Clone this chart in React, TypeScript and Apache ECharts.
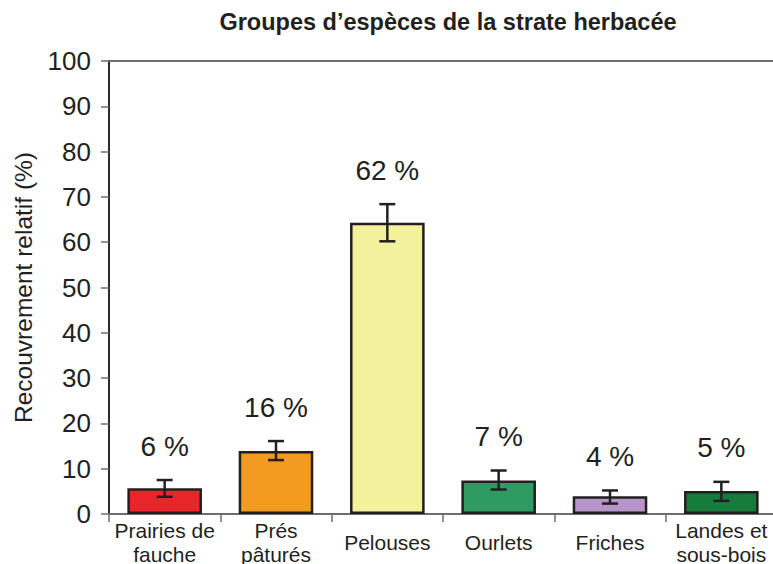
import React, { useEffect, useRef } from "react";
import * as echarts from "echarts";

const categories = ["Prairies de\nfauche", "Prés\npâturés", "Pelouses", "Ourlets", "Friches", "Landes et\nsous-bois"];
const values = [5.7, 13.9, 64.3, 7.4, 3.9, 5.1];
const errLow = [3.8, 11.9, 60.2, 5.4, 2.3, 2.9];
const errHigh = [7.5, 16.1, 68.4, 9.6, 5.2, 7.1];
const valueLabels = ["6 %", "16 %", "62 %", "7 %", "4 %", "5 %"];
const colors = ["#e8262a", "#f39a21", "#f4f19d", "#2f9a62", "#b795c9", "#177b3c"];
const yTicks = [0, 10, 20, 30, 40, 50, 60, 70, 80, 90, 100];

const FONT = "'Liberation Sans', Arial, Helvetica, sans-serif";

export default function App() {
  const ref = useRef<HTMLDivElement>(null);
  useEffect(() => {
    if (!ref.current) return;
    const chart = echarts.init(ref.current, undefined, { renderer: "svg" });
    chart.setOption({
      animation: false,
      backgroundColor: "#ffffff",
      title: {
        text: "Groupes d’espèces de la strate herbacée",
        left: 443,
        textAlign: "center",
        top: 5,
        textStyle: { fontFamily: FONT, fontWeight: "bold", fontSize: 23.5, color: "#231f20" },
      },
      grid: { left: 109, top: 61, width: 668, height: 453, containLabel: false, outerBoundsMode: "none" },
      xAxis: [
        {
          type: "category",
          data: categories,
          position: "bottom",
          axisLine: { show: true, lineStyle: { color: "#6d6d6d", width: 2 } },
          axisTick: { show: true, length: 8, lineStyle: { color: "#6d6d6d", width: 1.5 } },
          axisLabel: {
            interval: 0,
            fontFamily: FONT,
            fontSize: 21,
            color: "#231f20",
            lineHeight: 24,
            verticalAlign: "middle",
            margin: 28,
          },
        },
        {
          type: "category",
          data: categories,
          position: "top",
          axisLine: { show: true, lineStyle: { color: "#6d6d6d", width: 2 } },
          axisTick: { show: false },
          axisLabel: { show: false },
        },
      ],
      yAxis: {
        type: "value",
        min: yTicks[0],
        max: yTicks[yTicks.length - 1],
        interval: 10,
        name: "Recouvrement relatif (%)",
        nameLocation: "middle",
        nameGap: 73,
        nameTextStyle: { fontFamily: FONT, fontSize: 24.5, color: "#231f20" },
        axisLine: { show: true, lineStyle: { color: "#2a2a2a", width: 2 } },
        axisTick: { show: true, length: 8, lineStyle: { color: "#6d6d6d", width: 1.5 } },
        axisLabel: { fontFamily: FONT, fontSize: 26, color: "#231f20", margin: 18 },
        splitLine: { show: false },
      },
      series: [
        {
          type: "bar",
          data: values.map((v, i) => ({ value: v, itemStyle: { color: colors[i] } })),
          barCategoryGap: "33%",
          itemStyle: { borderColor: "#231f20", borderWidth: 2.5 },
        },
        {
          type: "custom",
          data: values.map((_, i) => [i, errLow[i], errHigh[i]]),
          encode: { x: 0, y: [1, 2] },
          z: 5,
          renderItem: (params: any, api: any) => {
            const x = api.value(0);
            const lo = api.coord([x, api.value(1)]);
            const hi = api.coord([x, api.value(2)]);
            const cap = 8;
            const st = { stroke: "#231f20", lineWidth: 2.5 };
            return {
              type: "group",
              children: [
                { type: "line", shape: { x1: lo[0], y1: lo[1], x2: hi[0], y2: hi[1] }, style: st },
                { type: "line", shape: { x1: lo[0] - cap, y1: lo[1], x2: lo[0] + cap, y2: lo[1] }, style: st },
                { type: "line", shape: { x1: hi[0] - cap, y1: hi[1], x2: hi[0] + cap, y2: hi[1] }, style: st },
                {
                  type: "text",
                  style: {
                    text: valueLabels[params.dataIndex],
                    x: hi[0],
                    y: hi[1] - 34,
                    align: "center",
                    verticalAlign: "middle",
                    fontFamily: FONT,
                    fontSize: 28,
                    fill: "#231f20",
                  },
                },
              ],
            };
          },
        },
      ],
    });
    return () => chart.dispose();
  }, []);
  return <div ref={ref} style={{ width: 773, height: 564, position: "absolute", left: 0, top: 0 }} />;
}
